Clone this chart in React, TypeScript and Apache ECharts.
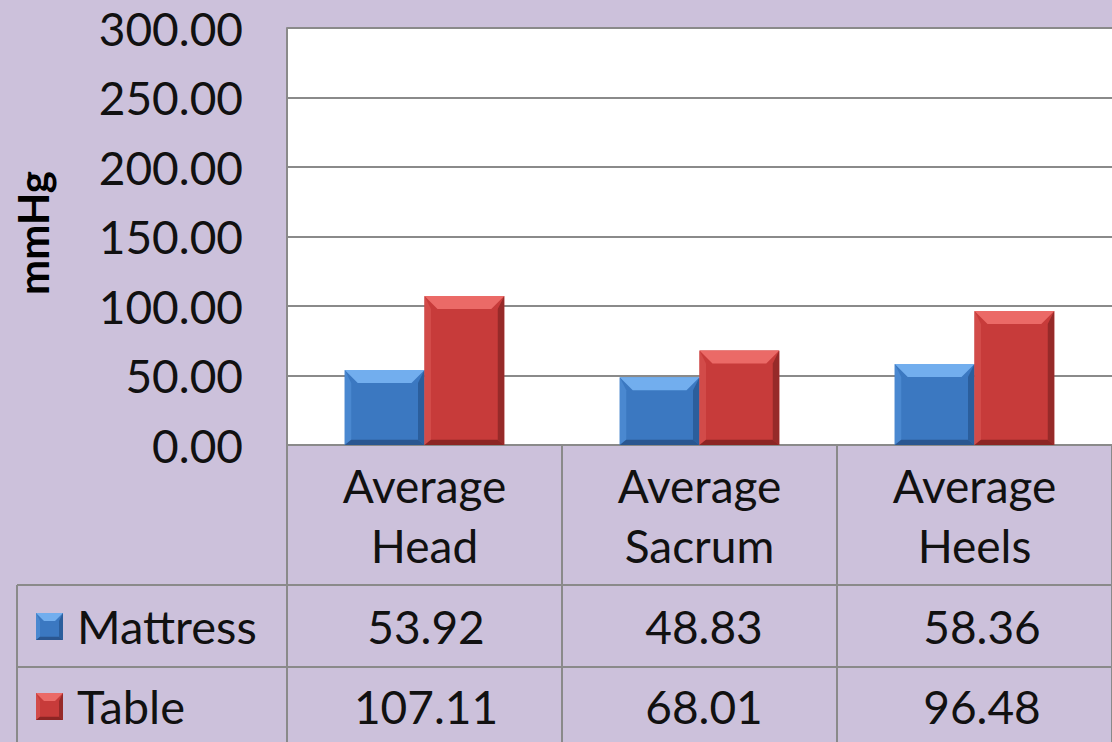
import React, { useEffect, useRef } from "react";
import * as echarts from "echarts";

const categories = ["Average\nHead", "Average\nSacrum", "Average\nHeels"];
const seriesNames = ["Mattress", "Table"];
const mattress = [53.92, 48.83, 58.36];
const table = [107.11, 68.01, 96.48];
const yTicks = { min: 0, max: 300, interval: 50 };

const FONT = "Lato";
const BG = "#CCC1DB";
const LINE = "#8A8A8A";

const GRID_LEFT = 287;
const GRID_TOP = 28;
const GRID_BOTTOM_Y = 445;
const GRID_W = 834;
const W = 1112;
const H = 742;

const palettes = [
  { main: "#3B78C1", top: "#72AEEE", left: "#4A88D0", right: "#2B5E9C", bottom: "#2A5690" },
  { main: "#C73B3A", top: "#EB6A67", left: "#D24B49", right: "#962A29", bottom: "#8C2524" },
];

function bevelBar(x: number, y: number, w: number, h: number, p: any, b: number) {
  const bb = Math.min(b, h / 2, w / 2);
  return [
    { type: "rect", shape: { x, y, width: w, height: h }, style: { fill: p.main } },
    {
      type: "polygon",
      shape: { points: [[x, y], [x + w, y], [x + w - bb, y + bb], [x + bb, y + bb]] },
      style: { fill: p.top },
    },
    {
      type: "polygon",
      shape: { points: [[x, y], [x + bb * 0.5, y + bb], [x + bb * 0.5, y + h - bb * 0.4], [x, y + h]] },
      style: { fill: p.left },
    },
    {
      type: "polygon",
      shape: { points: [[x + w, y], [x + w, y + h], [x + w - bb * 0.5, y + h - bb * 0.4], [x + w - bb * 0.5, y + bb]] },
      style: { fill: p.right },
    },
    {
      type: "polygon",
      shape: { points: [[x, y + h], [x + w, y + h], [x + w - bb * 0.5, y + h - bb * 0.4], [x + bb * 0.5, y + h - bb * 0.4]] },
      style: { fill: p.bottom },
    },
  ];
}

export default function App() {
  const ref = useRef<HTMLDivElement>(null);
  useEffect(() => {
    if (!ref.current) return;
    const chart = echarts.init(ref.current, undefined, { renderer: "svg" });
    const catW = GRID_W / categories.length;
    const rowLines = [585, 667];
    const rowCenters = [626, 706];
    const allSeries = [mattress, table];

    const graphic: any[] = [];
    rowLines.forEach((y) =>
      graphic.push({
        type: "line",
        shape: { x1: 17, y1: y, x2: GRID_LEFT + GRID_W, y2: y },
        style: { stroke: LINE, lineWidth: 2 },
        z: 10,
      })
    );
    graphic.push({
      type: "line",
      shape: { x1: 17, y1: 585, x2: 17, y2: H },
      style: { stroke: LINE, lineWidth: 2 },
      z: 10,
    });
    seriesNames.forEach((name, si) => {
      const cy = rowCenters[si];
      const p = palettes[si];
      graphic.push({
        type: "group",
        z: 10,
        children: bevelBar(36, cy - 13, 27, 27, p, 8),
      });
      graphic.push({
        type: "text",
        x: 77,
        y: cy,
        z: 10,
        style: { text: name, font: `47px ${FONT}`, fill: "#111", textVerticalAlign: "middle", textAlign: "left" },
      });
      allSeries[si].forEach((v, ci) => {
        graphic.push({
          type: "text",
          x: GRID_LEFT + catW * (ci + 0.5),
          y: cy,
          z: 10,
          style: {
            text: v.toFixed(2),
            font: `46px ${FONT}`,
            fill: "#111",
            textAlign: "center",
            textVerticalAlign: "middle",
          },
        });
      });
    });
    graphic.push({
      type: "text",
      x: 33,
      y: 233,
      rotation: Math.PI / 2,
      z: 10,
      style: {
        text: "mmHg",
        font: `bold 42px ${FONT}`,
        fill: "#000",
        textAlign: "center",
        textVerticalAlign: "middle",
      },
    });

    const barFrac = 0.29;
    const makeSeries = (si: number) => ({
      type: "custom",
      name: seriesNames[si],
      data: allSeries[si].map((v, i) => [i, v]),
      encode: { x: 0, y: 1 },
      renderItem: (params: any, api: any) => {
        const ci = api.value(0);
        const v = api.value(1);
        const base = api.coord([ci, 0]);
        const top = api.coord([ci, v]);
        const bw = api.size([1, 0])[0] * barFrac;
        const x = si === 0 ? base[0] - bw : base[0];
        return {
          type: "group",
          children: bevelBar(x, top[1], bw, base[1] - top[1], palettes[si], 13),
        };
      },
    });

    chart.setOption({
      animation: false,
      backgroundColor: BG,
      grid: {
        left: GRID_LEFT,
        top: GRID_TOP,
        width: GRID_W,
        height: GRID_BOTTOM_Y - GRID_TOP,
        show: true,
        backgroundColor: "#FFFFFF",
        borderWidth: 0,
      },
      xAxis: {
        type: "category",
        data: categories,
        axisLine: { show: true, lineStyle: { color: LINE, width: 2 } },
        axisTick: { show: true, length: 300, lineStyle: { color: LINE, width: 2 } },
        axisLabel: {
          margin: 10,
          lineHeight: 60,
          fontSize: 46,
          fontFamily: FONT,
          color: "#111",
          interval: 0,
        },
        splitLine: { show: false },
      },
      yAxis: {
        type: "value",
        min: yTicks.min,
        max: yTicks.max,
        interval: yTicks.interval,
        axisLine: { show: true, lineStyle: { color: LINE, width: 2 } },
        axisTick: { show: false },
        axisLabel: {
          margin: 44,
          fontSize: 46,
          fontFamily: FONT,
          color: "#111",
          formatter: (v: number) => v.toFixed(2),
        },
        splitLine: { show: true, lineStyle: { color: LINE, width: 2 } },
      },
      series: [makeSeries(0), makeSeries(1)],
      graphic,
    });
    return () => chart.dispose();
  }, []);
  return <div ref={ref} style={{ position: "fixed", left: 0, top: 0, width: W, height: H }} />;
}
